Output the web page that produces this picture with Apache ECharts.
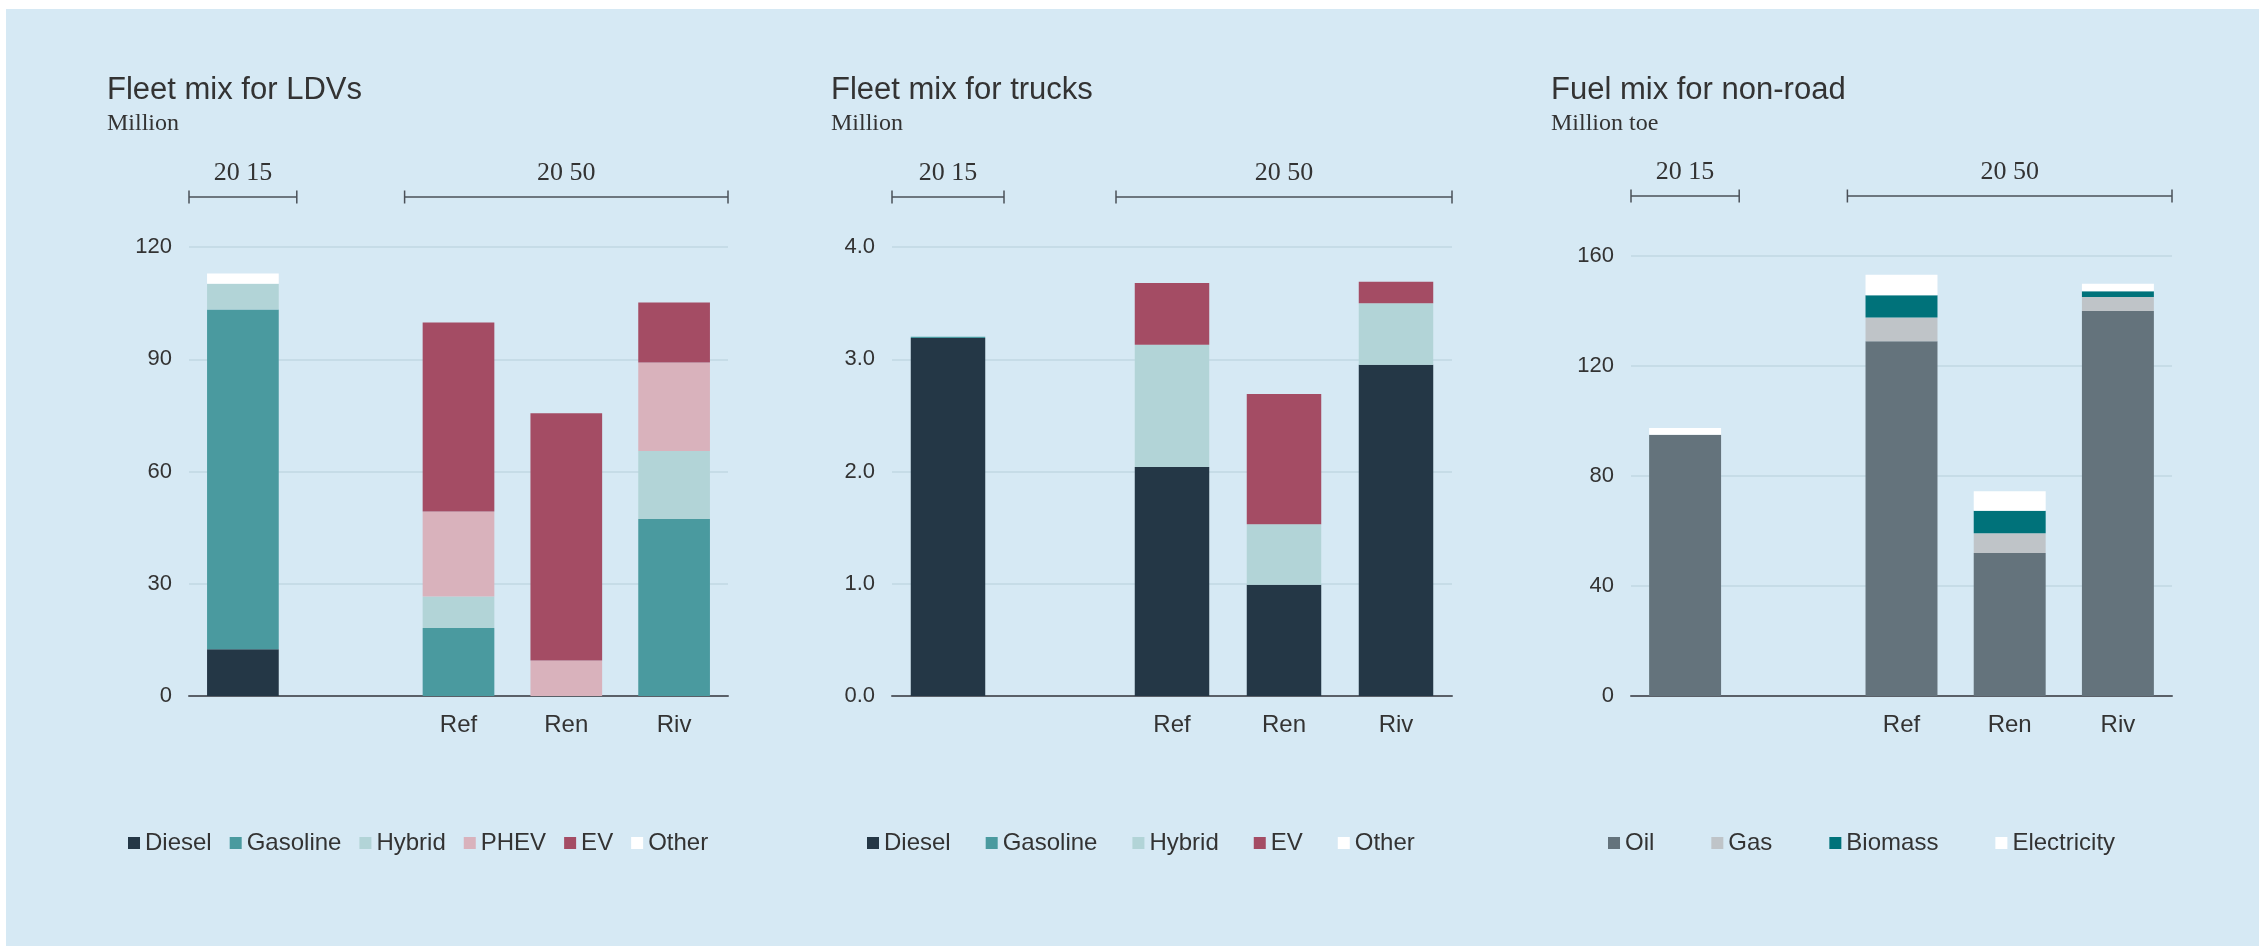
<!DOCTYPE html>
<html><head><meta charset="utf-8">
<script src="https://cdn.jsdelivr.net/npm/echarts@6/dist/echarts.min.js"></script>
<style>
html,body{margin:0;padding:0;background:#fff;overflow:hidden;}
#bg{position:absolute;left:6px;top:9px;width:2253px;height:937px;background:#d6e9f4;}
#chart{position:absolute;left:0;top:0;width:2259px;height:946px;}
</style></head><body><div id="bg"></div><div id="chart"></div>
<script>
// ---- categories & periods ----
const categories = ['', ' ', 'Ref', 'Ren', 'Riv'];
const periods = [{label:'20 15', from:0, to:0}, {label:'20 50', from:2, to:4}];

// ---- Fleet mix for LDVs (million) ----
const ldvNames = ['Diesel','Gasoline','Hybrid','PHEV','EV','Other'];
const ldvDiesel   = [12.5, null, 0, 0, 0];
const ldvGasoline = [90.8, null, 18.2, 0, 47.3];
const ldvHybrid   = [6.9, null, 8.4, 0, 18.2];
const ldvPHEV     = [0, null, 22.7, 9.5, 23.6];
const ldvEV       = [0, null, 50.5, 66.1, 16.1];
const ldvOther    = [2.7, null, 0, 0, 0];
const ldvTicks = {min:0, max:120, interval:30};

// ---- Fleet mix for trucks (million) ----
const truckNames = ['Diesel','Gasoline','Hybrid','EV','Other'];
const truckDiesel   = [3.19, null, 2.04, 0.99, 2.95];
const truckGasoline = [0.01, null, 0, 0, 0];
const truckHybrid   = [0, null, 1.09, 0.54, 0.55];
const truckEV       = [0, null, 0.55, 1.16, 0.19];
const truckOther    = [0, null, 0, 0, 0];
const truckTicks = {min:0, max:4, interval:1};

// ---- Fuel mix for non-road (million toe) ----
const nrNames = ['Oil','Gas','Biomass','Electricity'];
const nrOil         = [95.0, null, 129.0, 52.0, 140.0];
const nrGas         = [0, null, 8.6, 7.2, 5.1];
const nrBiomass     = [0, null, 8.1, 8.2, 2.1];
const nrElectricity = [2.5, null, 7.5, 7.1, 2.7];
const nrTicks = {min:0, max:160, interval:40};

const colorMap = {
  Diesel:'#243746', Gasoline:'#4a9a9f', Hybrid:'#b2d4d7', PHEV:'#d9b2bc', EV:'#a44c64', Other:'#ffffff',
  Oil:'#64737c', Gas:'#bfc4c8', Biomass:'#00727a', Electricity:'#ffffff'
};

const SANS = '"Liberation Sans", Arial, sans-serif';
const SERIF = '"Liberation Serif", "Times New Roman", serif';
const TXT = '#333333';

const panels = [
  {title:'Fleet mix for LDVs', unit:'Million', names:ldvNames,
   data:[ldvDiesel, ldvGasoline, ldvHybrid, ldvPHEV, ldvEV, ldvOther], ticks:ldvTicks, dec:0,
   grid:{left:189, top:247, width:539, height:449}, titleLeft:107, legendLeft:128, legendGap:18, bracketY:197},
  {title:'Fleet mix for trucks', unit:'Million', names:truckNames,
   data:[truckDiesel, truckGasoline, truckHybrid, truckEV, truckOther], ticks:truckTicks, dec:1,
   grid:{left:892, top:247, width:560, height:449}, titleLeft:831, legendLeft:867, legendGap:35, bracketY:197},
  {title:'Fuel mix for non-road', unit:'Million toe', names:nrNames,
   data:[nrOil, nrGas, nrBiomass, nrElectricity], ticks:nrTicks, dec:0,
   grid:{left:1631, top:256, width:541, height:440}, titleLeft:1551, legendLeft:1608, legendGap:57, bracketY:196}
];

const option = {
  animation:false,
  backgroundColor:'transparent',
  title:[], grid:[], xAxis:[], yAxis:[], legend:[], series:[]
};

panels.forEach((p, i) => {
  option.title.push({
    text:p.title, subtext:p.unit, left:p.titleLeft, top:75, itemGap:6, padding:0,
    textStyle:{fontFamily:SANS, fontSize:31, fontWeight:'normal', color:TXT},
    subtextStyle:{fontFamily:SERIF, fontSize:24, color:TXT}
  });
  option.grid.push(Object.assign({containLabel:false}, p.grid));
  option.xAxis.push({
    type:'category', gridIndex:i, data:categories,
    axisLine:{show:true, lineStyle:{color:'#5a6068', width:2}},
    axisTick:{show:false},
    axisLabel:{fontFamily:SANS, fontSize:24, color:TXT, margin:17, interval:0},
    splitLine:{show:false}
  });
  option.yAxis.push({
    type:'value', gridIndex:i, min:p.ticks.min, max:p.ticks.max, interval:p.ticks.interval,
    axisLine:{show:false}, axisTick:{show:false},
    axisLabel:{fontFamily:SANS, fontSize:22, color:TXT, margin:17,
      formatter:(v)=>v.toFixed(p.dec)},
    splitLine:{show:true, lineStyle:{color:'#c1d7e3', width:1.5}}
  });
  option.legend.push({
    data:p.names, left:p.legendLeft, top:831, itemGap:p.legendGap, padding:0,
    icon:'rect', itemWidth:12, itemHeight:12, selectedMode:false,
    textStyle:{fontFamily:SANS, fontSize:24, color:TXT}
  });
  p.names.forEach((n, k) => {
    option.series.push({
      type:'bar', name:n, stack:'s'+i, xAxisIndex:i, yAxisIndex:i,
      data:p.data[k], barWidth:'66.5%',
      itemStyle:{color:colorMap[n]}, emphasis:{disabled:true}
    });
  });
  const by = p.bracketY;
  option.series.push({
    type:'custom', name:'periods'+i, xAxisIndex:i, yAxisIndex:i, silent:true, clip:false, z:5,
    data:periods.map(q => [q.from, 0]),
    renderItem:(params, api) => {
      const q = periods[params.dataIndex];
      const bw = api.size([1, 0])[0];
      const x0 = api.coord([q.from, 0])[0] - bw/2;
      const x1 = api.coord([q.to, 0])[0] + bw/2;
      const ls = {stroke:'#4a5058', lineWidth:1.5};
      return {type:'group', children:[
        {type:'line', shape:{x1:x0, y1:by, x2:x1, y2:by}, style:ls},
        {type:'line', shape:{x1:x0, y1:by-6.5, x2:x0, y2:by+6.5}, style:ls},
        {type:'line', shape:{x1:x1, y1:by-6.5, x2:x1, y2:by+6.5}, style:ls},
        {type:'text', style:{text:q.label, x:(x0+x1)/2, y:by-24, align:'center', verticalAlign:'middle',
          fontFamily:SERIF, fontSize:26, fill:TXT}}
      ]};
    }
  });
});

const chart = echarts.init(document.getElementById('chart'), null, {renderer:'canvas'});
chart.setOption(option);
</script>
</body></html>
